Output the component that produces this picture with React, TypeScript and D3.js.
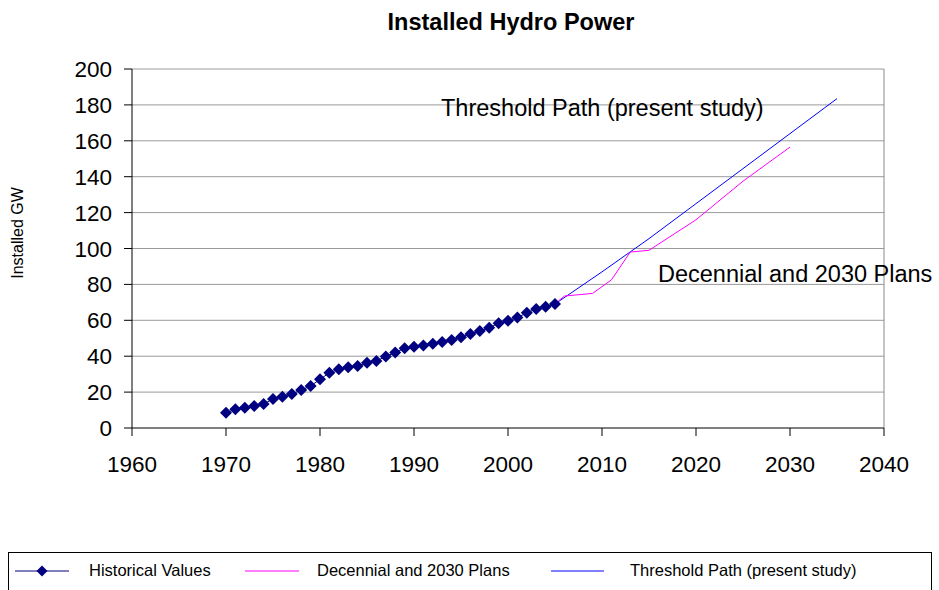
import React from "react";
import * as d3 from "d3";

const histYears = [1970,1971,1972,1973,1974,1975,1976,1977,1978,1979,1980,1981,1982,1983,1984,1985,1986,1987,1988,1989,1990,1991,1992,1993,1994,1995,1996,1997,1998,1999,2000,2001,2002,2003,2004,2005];
const histValues = [8.5,10.4,11.3,12.2,13.4,16.1,17.4,18.9,21.2,23.4,27.1,30.8,32.7,33.8,34.5,36.4,37.3,39.9,42.0,44.4,45.3,46.0,47.0,47.9,49.0,50.5,52.4,54.0,55.9,58.3,59.8,61.5,64.2,66.3,67.6,69.1];

const planYears = [2005,2006,2009,2011,2013,2015,2020,2025,2030];
const planValues = [69.1,73.5,75,82.5,98,99,116,137.5,156.5];

const threshYears = [2005,2010,2015,2020,2025,2030,2035];
const threshValues = [69.1,87,105.5,125,144.5,164,183.5];

const xTicks = [1960,1970,1980,1990,2000,2010,2020,2030,2040];
const yTicks = [0,20,40,60,80,100,120,140,160,180,200];

const seriesNames = ["Historical Values","Decennial and 2030 Plans","Threshold Path (present study)"];
const title = "Installed Hydro Power";
const yLabel = "Installed GW";

const FONT = "'Liberation Sans', Arial, sans-serif";

export default function App() {
  const W = 939, H = 590;
  const left = 132, right = 884, top = 69, bottom = 428;
  const x = d3.scaleLinear().domain([1960, 2040]).range([left, right]);
  const y = d3.scaleLinear().domain([0, 200]).range([bottom, top]);

  const line = d3.line<[number, number]>().x(d => x(d[0])).y(d => y(d[1]));
  const hist: [number, number][] = histYears.map((yr, i) => [yr, histValues[i]]);
  const plan: [number, number][] = planYears.map((yr, i) => [yr, planValues[i]]);
  const thresh: [number, number][] = threshYears.map((yr, i) => [yr, threshValues[i]]);

  const diamond = (cx: number, cy: number, r: number) =>
    `M${cx},${cy - r}L${cx + r},${cy}L${cx},${cy + r}L${cx - r},${cy}Z`;

  const legY = 571;

  return (
    <svg width={W} height={H} style={{ position: "absolute", left: 0, top: 0, background: "#fff" }} fontFamily={FONT}>
      <rect x={0} y={0} width={W} height={H} fill="#fff" />
      <text x={511} y={30} textAnchor="middle" fontSize={23.5} fontWeight="bold">{title}</text>

      {/* gridlines */}
      {yTicks.filter(t => t > 0).map(t => (
        <line key={t} x1={left} x2={right} y1={y(t)} y2={y(t)} stroke="#9a9a9a" strokeWidth={1} />
      ))}
      <line x1={right} x2={right} y1={top} y2={bottom} stroke="#8a8a8a" strokeWidth={1} />

      {/* axes */}
      <line x1={left} x2={left} y1={top} y2={bottom} stroke="#000" />
      <line x1={left} x2={right} y1={bottom} y2={bottom} stroke="#000" />
      {yTicks.map(t => (
        <g key={t}>
          <line x1={left - 8} x2={left} y1={y(t)} y2={y(t)} stroke="#000" />
          <text x={112} y={y(t) + 8} textAnchor="end" fontSize={22.5}>{t}</text>
        </g>
      ))}
      {xTicks.map(t => (
        <g key={t}>
          <line x1={x(t)} x2={x(t)} y1={bottom} y2={bottom + 8} stroke="#000" />
          <text x={x(t)} y={472} textAnchor="middle" fontSize={22.5}>{t}</text>
        </g>
      ))}
      <text transform={`translate(23,233) rotate(-90)`} textAnchor="middle" fontSize={16}>{yLabel}</text>

      {/* series */}
      <path d={line(thresh) || ""} fill="none" stroke="#0000ff" strokeWidth={1} />
      <path d={line(plan) || ""} fill="none" stroke="#ff00ff" strokeWidth={1} />
      <path d={line(hist) || ""} fill="none" stroke="#000080" strokeWidth={1} />
      {hist.map((d, i) => (
        <path key={i} d={diamond(x(d[0]), y(d[1]), 6)} fill="#000080" />
      ))}

      {/* annotations */}
      <text x={441} y={116} fontSize={23.5}>{seriesNames[2]}</text>
      <text x={658} y={282} fontSize={23.5}>{seriesNames[1]}</text>

      {/* legend */}
      <rect x={8.5} y={552.5} width={923} height={60} fill="#fff" stroke="#000" strokeWidth={1} />
      <line x1={15} x2={69} y1={legY} y2={legY} stroke="#000080" />
      <path d={diamond(42, legY, 5.5)} fill="#000080" />
      <text x={89} y={legY + 5} fontSize={16.5}>{seriesNames[0]}</text>
      <line x1={245} x2={299} y1={legY} y2={legY} stroke="#ff00ff" />
      <text x={317} y={legY + 5} fontSize={16.5}>{seriesNames[1]}</text>
      <line x1={551} x2={604} y1={legY} y2={legY} stroke="#0000ff" />
      <text x={630} y={legY + 5} fontSize={16.5}>{seriesNames[2]}</text>
    </svg>
  );
}
